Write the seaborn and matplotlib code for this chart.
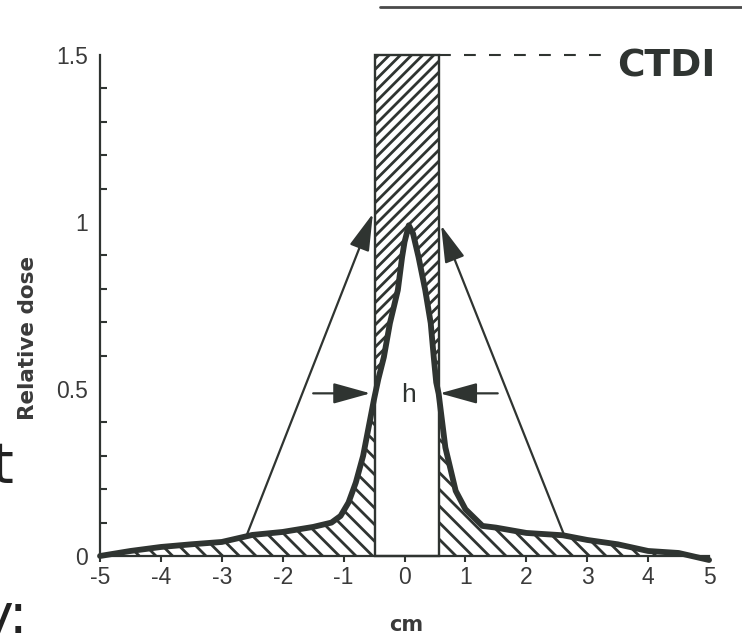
import numpy as np
import pandas as pd
import matplotlib
matplotlib.use("Agg")
import matplotlib.pyplot as plt
import seaborn as sns
from matplotlib.patches import Rectangle
from matplotlib.lines import Line2D
from matplotlib.ticker import FixedLocator

# ---------------- data ----------------
x_cm = [-5.0, -4.5, -4.0, -3.5, -3.0, -2.5, -2.0, -1.5, -1.2, -1.05, -0.92, -0.8,
        -0.68, -0.5, -0.43, -0.34, -0.24, -0.11, -0.04, 0.0, 0.07, 0.14, 0.23,
        0.34, 0.43, 0.48, 0.52, 0.56, 0.67, 0.84, 1.0, 1.28, 1.5, 2.0, 2.6, 3.0,
        3.5, 4.0, 4.5, 5.0]
dose = [0.0, 0.015, 0.027, 0.035, 0.042, 0.063, 0.072, 0.087, 0.10, 0.12, 0.16, 0.22,
        0.30, 0.47, 0.53, 0.595, 0.697, 0.796, 0.895, 0.94, 0.99, 0.965, 0.895,
        0.796, 0.697, 0.595, 0.52, 0.486, 0.325, 0.195, 0.14, 0.09, 0.085, 0.069,
        0.062, 0.048, 0.035, 0.015, 0.009, -0.012]

ctdi_left, ctdi_right, ctdi_level = -0.49, 0.57, 1.5
ctdi_dash_end = 3.26
ctdi_label = "CTDI"

long_arrow_tails = [(-2.59, 0.063), (2.62, 0.063)]
long_arrow_heads = [(-0.52, 1.025), (0.60, 0.99)]
h_arrow_tails = [(-1.50, 0.487), (1.53, 0.487)]
h_arrow_heads = [(-0.56, 0.487), (0.58, 0.487)]
h_label = "h"

x_ticks = [-5, -4, -3, -2, -1, 0, 1, 2, 3, 4, 5]
y_ticks = [0, 0.5, 1, 1.5]
y_tick_labels = ["0", "0.5", "1", "1.5"]
y_minor = [0.1, 0.2, 0.3, 0.4, 0.6, 0.7, 0.8, 0.9, 1.1, 1.2, 1.3, 1.4]
x_label = "cm"
y_label = "Relative dose"

# ---------------- style ----------------
INK = "#2f3431"
TXT = "#3a3a3a"
sns.set_theme(style="white")
plt.rcParams["font.family"] = ["Liberation Sans", "DejaVu Sans"]
plt.rcParams["hatch.linewidth"] = 2.0
plt.rcParams["lines.scale_dashes"] = False

fig = plt.figure(figsize=(7.42, 6.36), dpi=100)
fig.patch.set_facecolor("white")
ax = fig.add_axes([0.1348, 0.1258, 0.8208, 0.7877])
ax.set_facecolor("white")

df = pd.DataFrame({"cm": x_cm, "dose": dose})

# tails: hatched between 0 and the profile (backslash hatch)
ax.fill_between(df["cm"], 0, df["dose"], facecolor="none", edgecolor=INK,
                linewidth=0, hatch="\\\\", zorder=1)
# blank out the central slab
ax.add_patch(Rectangle((ctdi_left, -0.02), ctdi_right - ctdi_left, ctdi_level + 0.02,
                       facecolor="white", edgecolor="none", zorder=2))
# slab above the profile: forward hatch, clipped to the slab
top_fill = ax.fill_between(df["cm"], df["dose"], ctdi_level, facecolor="none",
                           edgecolor=INK, linewidth=0, hatch="///", zorder=3)
clip_rect = Rectangle((ctdi_left, 0), ctdi_right - ctdi_left, ctdi_level,
                      transform=ax.transData)
top_fill.set_clip_path(clip_rect)
# slab outline
ax.add_patch(Rectangle((ctdi_left, 0), ctdi_right - ctdi_left, ctdi_level,
                       fill=False, edgecolor=INK, linewidth=1.7, zorder=5,
                       clip_on=False))

# dose profile
sns.lineplot(data=df, x="cm", y="dose", sort=False, estimator=None, color=INK,
             linewidth=4.2, ax=ax, zorder=6, clip_on=False,
             solid_joinstyle="round", solid_capstyle="round")

# dashed CTDI level
ax.plot([ctdi_right, ctdi_dash_end], [ctdi_level, ctdi_level], color=INK, lw=1.5,
        dashes=(8.5, 9.5), clip_on=False, zorder=5)
ax.text(3.49, 1.435, ctdi_label, fontsize=27, fontweight="bold",
        family="DejaVu Sans", color=INK, ha="left", va="baseline", clip_on=False)

# arrows
for tails, heads in [(long_arrow_tails, long_arrow_heads),
                     (h_arrow_tails, h_arrow_heads)]:
    for (tx, ty), (hx, hy) in zip(tails, heads):
        ax.annotate("", xy=(hx, hy), xytext=(tx, ty), zorder=7,
                    arrowprops=dict(arrowstyle="-|>,head_length=1.15,head_width=0.32",
                                    color=INK, lw=1.6, shrinkA=0, shrinkB=0,
                                    mutation_scale=20))
ax.text(0.066, 0.462, h_label, fontsize=19, color=INK, ha="center", va="baseline")

# axes
ax.set_xlim(-5, 5)
ax.set_ylim(0, 1.5)
ax.xaxis.set_major_locator(FixedLocator(x_ticks))
ax.set_xticklabels([str(t) for t in x_ticks])
ax.yaxis.set_major_locator(FixedLocator(y_ticks))
ax.set_yticklabels(y_tick_labels)
ax.yaxis.set_minor_locator(FixedLocator(y_minor))
ax.tick_params(axis="y", which="major", direction="inout", length=9.5, width=1.5,
               color=INK, labelsize=16.5, labelcolor=TXT, pad=4)
ax.tick_params(axis="y", which="minor", direction="in", length=5, width=1.5,
               color=INK, left=True)
ax.tick_params(axis="x", which="major", direction="out", length=4.5, width=1.5,
               color=INK, labelsize=16.5, labelcolor=TXT, pad=2.5, bottom=True)
for s in ["top", "right"]:
    ax.spines[s].set_visible(False)
for s in ["left", "bottom"]:
    ax.spines[s].set_color(INK)
    ax.spines[s].set_linewidth(1.6)

ax.set_xlabel(x_label, fontsize=15, fontweight="bold", family="DejaVu Sans",
              color=TXT)
ax.xaxis.set_label_coords(0.502, -0.138)
ax.xaxis.label.set_va("center")
ax.set_ylabel(y_label, fontsize=15.5, fontweight="bold", family="DejaVu Sans",
              color=TXT)
ax.yaxis.set_label_coords(-0.118, 0.436)
ax.yaxis.label.set_va("center")

# slide fragments around the scanned figure
fig.add_artist(Line2D([380 / 742, 1.0], [0.989, 0.989], transform=fig.transFigure,
                      color="#4a4a4a", lw=2))
fig.text(-8.6 / 742, (636 - 482) / 636, "t", fontsize=40, family="DejaVu Sans",
         color="#222222", ha="left", va="baseline")
fig.text(-20 / 742, 3 / 636, "y:", fontsize=40, family="DejaVu Sans",
         color="#222222", ha="left", va="baseline")

fig.savefig("out.png", dpi=100, facecolor="white")
